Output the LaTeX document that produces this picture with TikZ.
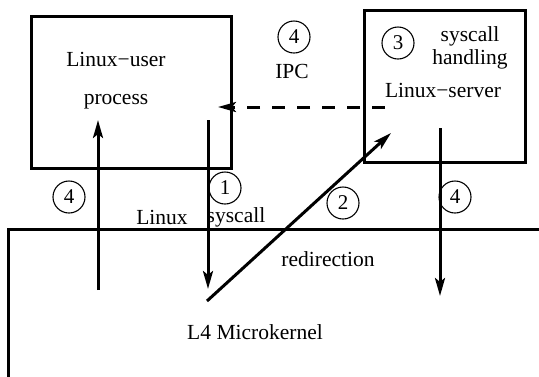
\documentclass[tikz,border=0pt]{standalone}
\usepackage{fontspec}
\setmainfont{Liberation Serif}
\usetikzlibrary{arrows.meta}
\begin{document}
\begin{tikzpicture}[x=1pt,y=-1pt,
  thick line/.style={line width=3pt},
  arr/.style={thick line,-{Stealth[length=18pt,width=10pt,inset=4pt]}},
  num/.style={circle,draw,line width=1.1pt,minimum size=32pt,inner sep=0pt,font=\fontsize{21}{23}\selectfont},
  lbl/.style={font=\fontsize{21.5}{23}\selectfont,inner sep=0pt}]
\useasboundingbox (0,0) rectangle (539,376);
% boxes
\node[draw,thick line,minimum width=200pt,minimum height=152pt,inner sep=0pt] (user) at (131,92) {};
\node[draw,thick line,minimum width=161pt,minimum height=152pt,inner sep=0pt] (server) at (444.5,86) {};
\draw[thick line] (540,229) -- (8,229) -- (8,378);
% labels
\node[lbl] (lu) at (116,59) {Linux−user};
\node[lbl] (pr) at (116,102) {process};
\node[lbl] (ls) at (443,90) {Linux−server};
\node[lbl,align=center] (sh) at (470,48) {syscall\\handling};
\node[lbl] (ipc) at (292,71) {IPC};
\node[lbl] (lx) at (162,217) {Linux};
\node[lbl] (sc) at (236,217) {syscall};
\node[lbl] (red) at (328,259) {redirection};
\node[lbl] (l4) at (255,332) {L4 Microkernel};
% numbers
\node[num] (n4a) at (294,37) {4};
\node[num] (n3) at (398,43) {3};
\node[num] (n1) at (225,188) {1};
\node[num] (n2) at (343,203) {2};
\node[num] (n4l) at (69,197) {4};
\node[num] (n4r) at (455,197) {4};
% arrows
\coordinate (a1s) at (208,120); \coordinate (a1e) at (208,289);
\coordinate (a4s) at (98,290); \coordinate (a4e) at (98,120);
\coordinate (a2s) at (207,301); \coordinate (a2e) at (391,133);
\coordinate (a3s) at (440,128); \coordinate (a3e) at (440,296);
\coordinate (ds) at (385,107); \coordinate (de) at (218,107);
\draw[arr] (a1s) -- (a1e);
\draw[arr] (a4s) -- (a4e);
\draw[arr] (a2s) -- (a2e);
\draw[arr] (a3s) -- (a3e);
\draw[arr,dash pattern=on 13pt off 12pt] (ds) -- (de);
\end{tikzpicture}
\end{document}
